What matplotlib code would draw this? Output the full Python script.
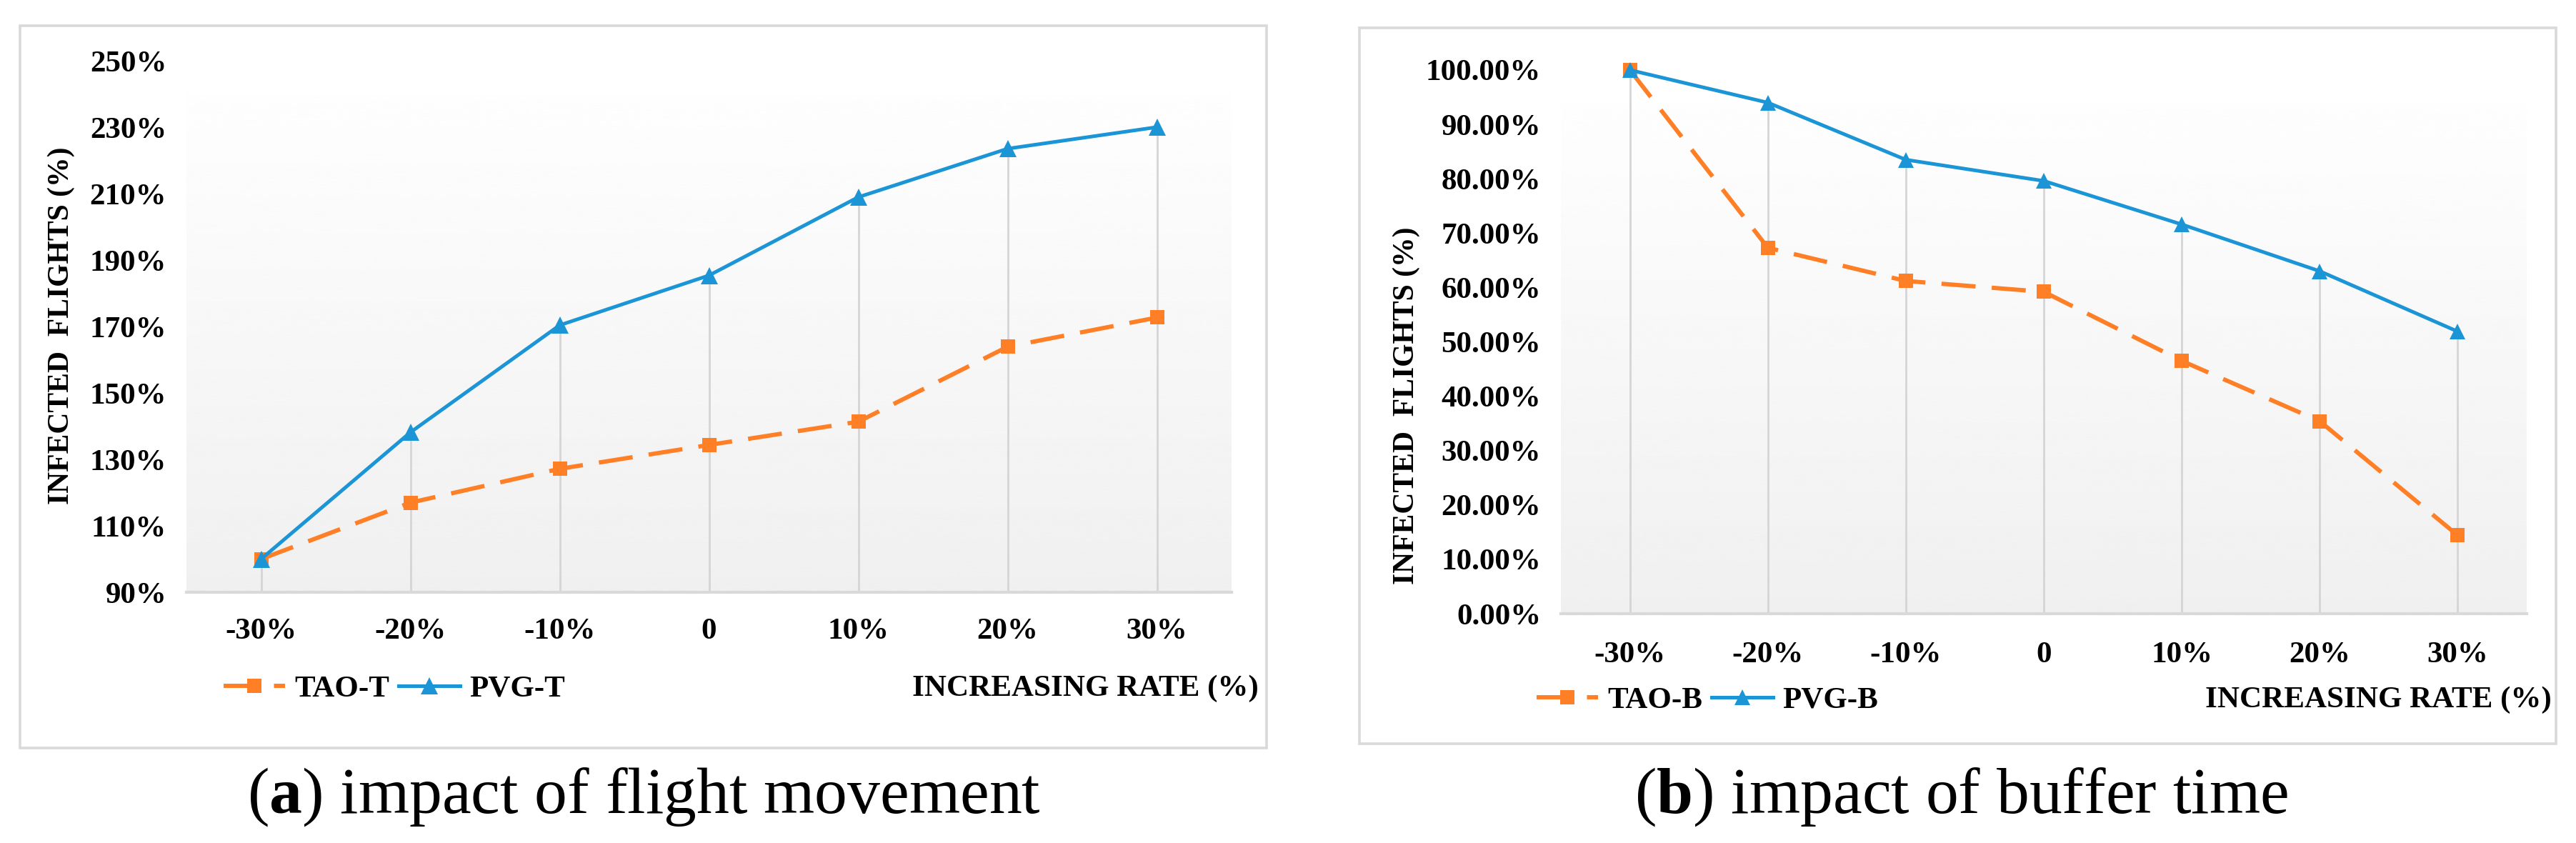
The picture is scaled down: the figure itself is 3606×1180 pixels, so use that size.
import numpy as np
import matplotlib
matplotlib.use("Agg")
import matplotlib.pyplot as plt
from matplotlib.patches import Rectangle
from matplotlib.lines import Line2D
from matplotlib.font_manager import FontProperties

# ---------------- data ----------------
categories = ['-30%', '-20%', '-10%', '0', '10%', '20%', '30%']

tao_t = [100.0, 117.0, 127.2, 134.4, 141.4, 164.0, 172.8]
pvg_t = [100.0, 138.2, 170.5, 185.5, 209.1, 223.7, 230.2]
yticks_a = [90, 110, 130, 150, 170, 190, 210, 230, 250]
yticklabels_a = ['90%', '110%', '130%', '150%', '170%', '190%', '210%', '230%', '250%']

tao_b = [100.0, 67.3, 61.2, 59.2, 46.5, 35.4, 14.4]
pvg_b = [100.0, 94.0, 83.5, 79.6, 71.6, 63.0, 51.9]
yticks_b = [0, 10, 20, 30, 40, 50, 60, 70, 80, 90, 100]
yticklabels_b = ['0.00%', '10.00%', '20.00%', '30.00%', '40.00%', '50.00%',
                 '60.00%', '70.00%', '80.00%', '90.00%', '100.00%']

labels_a = ['TAO-T', 'PVG-T']
labels_b = ['TAO-B', 'PVG-B']
ylabel = 'INFECTED  FLIGHTS (%)'
xlabel = 'INCREASING RATE (%)'
caption_a = r'($\mathbf{a}$) impact of flight movement'
caption_b = r'($\mathbf{b}$) impact of buffer time'

# ---------------- style ----------------
W, H = 3606, 1180
DPI = 100
ORANGE = '#FF7F27'
BLUE = '#1B95D6'
plt.rcParams['font.family'] = ['Liberation Serif', 'DejaVu Serif']
plt.rcParams['mathtext.fontset'] = 'custom'
plt.rcParams['mathtext.rm'] = 'Liberation Serif'
plt.rcParams['mathtext.bf'] = 'Liberation Serif:bold'

bold = FontProperties(family='Liberation Serif', weight='bold', size=31)
bold_small = FontProperties(family='Liberation Serif', weight='bold', size=30)

fig = plt.figure(figsize=(W / DPI, H / DPI), dpi=DPI)
fig.patch.set_facecolor('white')


def fx(px):
    return px / W


def fy(py):
    return 1 - py / H


def frame(l, t, r, b):
    fig.patches.append(Rectangle((fx(l), fy(b)), fx(r) - fx(l), fy(t) - fy(b),
                                 transform=fig.transFigure, fill=False,
                                 edgecolor='#d9d9d9', linewidth=2.6, zorder=0))


def panel(rect_px, tao, pvg, yticks, yticklabels, ylim, labels, msize,
          legend_xy, xlabel_xy, ylabel_xy, caption, caption_xy, xpad):
    l, t, r, b = rect_px
    ax = fig.add_axes([fx(l), fy(b), fx(r) - fx(l), fy(t) - fy(b)])
    x = np.arange(len(categories))
    ax.set_xlim(-0.5, len(categories) - 0.5)
    ax.set_ylim(*ylim)
    # gradient background
    grad = np.linspace(0.94, 1.0, 256).reshape(-1, 1)
    ax.imshow(grad, cmap='gray', vmin=0, vmax=1, aspect='auto',
              extent=(-0.5, len(categories) - 0.5, ylim[0], ylim[1]),
              origin='lower', zorder=0, interpolation='bicubic')
    # drop lines
    tops = np.maximum(tao, pvg)
    ax.vlines(x, ylim[0], tops, colors='#d5d5d5', linewidth=2.0, zorder=1)
    # series
    l1, = ax.plot(x, tao, color=ORANGE, linewidth=4.3, dashes=(8, 3.8),
                  marker='s', markersize=msize, markeredgewidth=0,
                  zorder=3, clip_on=False, label=labels[0])
    l2, = ax.plot(x, pvg, color=BLUE, linewidth=3.6,
                  marker='^', markersize=msize + 2, markeredgewidth=0,
                  zorder=4, clip_on=False, label=labels[1])
    for s in ['top', 'left', 'right']:
        ax.spines[s].set_visible(False)
    ax.spines['bottom'].set_color('#d9d9d9')
    ax.spines['bottom'].set_linewidth(3.0)
    ax.set_xticks(x)
    ax.set_xticklabels(categories, fontproperties=bold)
    ax.set_yticks(yticks)
    ax.set_yticklabels(yticklabels, fontproperties=bold)
    ax.tick_params(axis='both', length=0)
    ax.tick_params(axis='y', pad=20)
    ax.tick_params(axis='x', pad=xpad)
    ax.legend(handles=[l1, l2], labels=labels, loc='center left',
              bbox_to_anchor=(fx(legend_xy[0]), fy(legend_xy[1])),
              bbox_transform=fig.transFigure, ncol=2, frameon=False,
              handlelength=2.0, handletextpad=0.3, columnspacing=0.3,
              borderaxespad=0, borderpad=0, prop=bold)
    fig.text(fx(xlabel_xy[0]), fy(xlabel_xy[1]), xlabel, ha='right', va='center',
             fontproperties=bold)
    fig.text(fx(ylabel_xy[0]), fy(ylabel_xy[1]), ylabel, ha='center', va='center',
             rotation=90, fontproperties=bold_small)
    fig.text(fx(caption_xy[0]), fy(caption_xy[1]), caption, ha='center',
             va='center', fontsize=66, family='Liberation Serif')
    return ax


frame(28, 36, 1773, 1047)
frame(1903, 39, 3578, 1041)

panel((261, 86, 1724, 829), tao_t, pvg_t, yticks_a, yticklabels_a, (90, 250),
      labels_a, 15, (313, 964), (1762, 964), (86, 456), caption_a, (901, 1116), 26)
panel((2185, 98, 3537, 859), tao_b, pvg_b, yticks_b, yticklabels_b, (0, 100),
      labels_b, 14, (2151, 980), (3572, 980), (1969, 568), caption_b, (2745, 1116), 28)

fig.savefig('out.png', dpi=DPI, facecolor='white')
